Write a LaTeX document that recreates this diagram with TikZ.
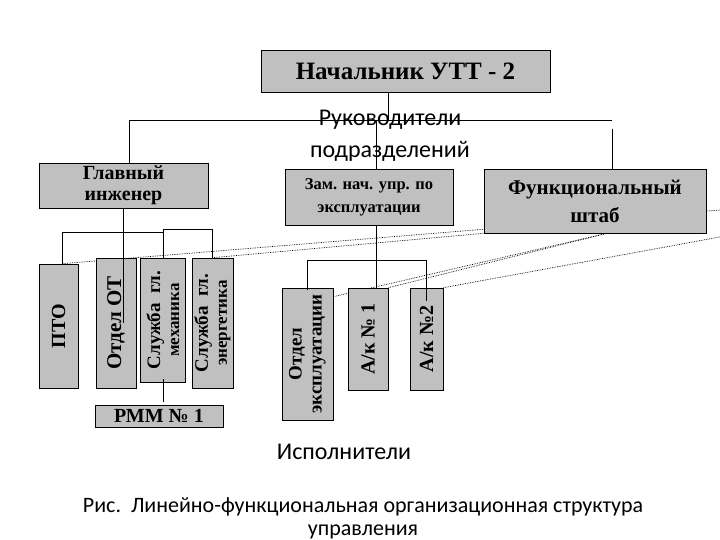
\documentclass[tikz,border=0pt]{standalone}
\usepackage{fontspec}
\setmainfont{Liberation Serif}
\newfontfamily\capfont{Carlito}
\usepackage{tikz}
\usetikzlibrary{positioning,backgrounds,calc}
\definecolor{boxgray}{RGB}{192,192,192}

\tikzset{
  unit/.style={draw,fill=boxgray,inner sep=0pt,align=center,font=\bfseries},
  vunit/.style={unit,rotate=90},
  funclink/.style={densely dotted,line width=0.7pt},
}

\begin{document}
\begin{tikzpicture}[x=1pt,y=-1pt,line width=0.6pt]
  \useasboundingbox (0,0) rectangle (720,540);
  \node[unit,minimum width=289pt,minimum height=42pt,font=\bfseries\fontsize{25}{27}\selectfont]
    (chief) at (405.5,71) {Начальник УТТ - 2};
  \node[font=\capfont\fontsize{24}{32}\selectfont,align=center] (heads) at (390,136)
    {Руководители\\подразделений};
  \node[unit,minimum width=169pt,minimum height=45pt,font=\bfseries\fontsize{20}{21}\selectfont]
    (glav) at (123.5,185.5) {Главный\\инженер};
  \node[unit,minimum width=168pt,minimum height=56pt,font=\bfseries\fontsize{16.5}{23}\selectfont]
    (zam) at (369,197) {Зам. нач. упр. по\\эксплуатации};
  \node[unit,minimum width=222pt,minimum height=64pt,font=\bfseries\fontsize{21}{28}\selectfont]
    (func) at (595,201) {Функциональный\\штаб};

  % службы главного инженера
  \node[vunit,minimum width=124pt,minimum height=39pt,font=\bfseries\fontsize{20}{22}\selectfont]
    (pto) at (58.5,326) {ПТО};
  \node[vunit,minimum width=130pt,minimum height=40pt,font=\bfseries\fontsize{21}{23}\selectfont]
    (otdot) at (116,323) {Отдел ОТ};
  \node[vunit,minimum width=124pt,minimum height=45pt,font=\bfseries\fontsize{19}{19}\selectfont]
    (meh) at (163,320) {Служба\ \ гл.\\{\fontsize{17}{17}\selectfont механика}};
  \node[vunit,minimum width=130pt,minimum height=41pt,font=\bfseries\fontsize{19}{19}\selectfont]
    (energ) at (212.5,323) {Служба\ \ гл.\\{\fontsize{17}{17}\selectfont энергетика}};
  \node[unit,minimum width=128pt,minimum height=22pt,font=\bfseries\fontsize{20}{22}\selectfont]
    (rmm) at (159,416) {РММ № 1};

  % подразделения эксплуатации
  \node[vunit,minimum width=132pt,minimum height=51pt,font=\bfseries\fontsize{19}{20}\selectfont]
    (otdexp) at (307.5,354) {Отдел\\эксплуатации};
  \node[vunit,minimum width=102pt,minimum height=40pt,font=\bfseries\fontsize{20}{22}\selectfont]
    (ak1) at (368,339) {А/к № 1};
  \node[vunit,minimum width=102pt,minimum height=33pt,font=\bfseries\fontsize{20}{22}\selectfont]
    (ak2) at (426.5,339) {А/к №2};

  \node[font=\capfont\fontsize{24}{28}\selectfont] (execs) at (344,452) {Исполнители};
  \node[font=\capfont\fontsize{22}{23}\selectfont,align=center] (caption) at (363,518)
    {Рис.\ \ Линейно-функциональная организационная структура\\управления};

  % линейные связи
  \coordinate (busl) at (129,120);
  \coordinate (busr) at (612,120);
  \draw (busl) -- (busr);
  \draw ([xshift=-17.5pt]chief.south) -- ([xshift=-17.5pt]chief.south |- busl);
  \draw (busl) -- (busl |- glav.north);
  \draw ([yshift=-9pt]busr) -- (busr |- func.north);
  \draw ([xshift=7pt]zam.north |- busl) -- ([xshift=7pt]zam.north);

  \coordinate (gbus) at (0,232);
  \draw (glav.south) -- (glav.south |- otdot.north);
  \draw ([xshift=3.5pt]pto.east) |- (meh.east |- gbus) -- ++(0,-3) -| (energ.east);
  \draw (meh.east) -- (meh.east |- gbus);
  \draw ([yshift=3pt]meh.west) -- ([yshift=3pt]meh.west |- rmm.north);

  \coordinate (zbus) at (0,247);
  \draw ([xshift=7pt]zam.south) -- ([xshift=7pt]zam.south |- ak1.east);
  \draw ([yshift=-2.5pt]otdexp.east) |- ([yshift=-13.5pt]ak2.east |- zbus)
    -- ([yshift=-13.5pt]ak2.east);

  % функциональные связи
  \coordinate (edge1) at (720,210);
  \coordinate (edge2) at (720,237);
  \begin{pgfonlayer}{background}
    \draw[funclink] ([xshift=3.5pt]pto.east) -- (edge1);
    \draw[funclink] (energ.east) -- (func.south west);
    \draw[funclink] ([xshift=12pt]func.south) -- (ak1.south east);
    \draw[funclink] ([xshift=12pt]func.south) -- ([yshift=-9pt]otdexp.south east);
    \draw[funclink] (edge2) -- (ak2.south east);
  \end{pgfonlayer}
\end{tikzpicture}
\end{document}
